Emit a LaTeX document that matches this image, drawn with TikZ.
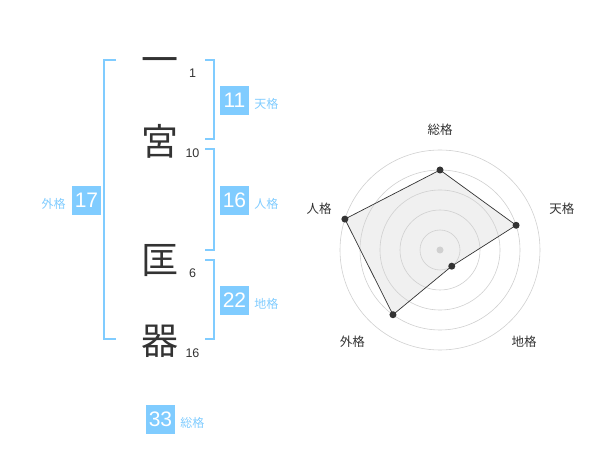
\documentclass[tikz,border=0pt]{standalone}
\usepackage{fontspec}
\setmainfont{Liberation Sans}
\newfontfamily\cjk{Noto Sans CJK JP}
\usetikzlibrary{positioning}
\definecolor{kakublue}{HTML}{80CCFF}
\definecolor{inkgray}{HTML}{333333}
\definecolor{ringgray}{HTML}{D0D0D0}
\definecolor{areagray}{HTML}{F0F0F0}

\begin{document}
\begin{tikzpicture}[x=1pt, y=-1pt,
    kanji/.style={font=\cjk\fontsize{37}{37}\selectfont, text=inkgray, inner sep=0pt},
    strokes/.style={font=\fontsize{12.5}{12.5}\selectfont, text=inkgray, inner sep=0pt},
    kakubox/.style={fill=kakublue, text=white, minimum size=29pt, inner sep=0pt, font=\fontsize{21}{21}\selectfont},
    kakulabel/.style={font=\cjk\fontsize{12}{12}\selectfont, text=kakublue, inner sep=0pt},
    bracket/.style={draw=kakublue, line width=2pt},
    ring/.style={draw=ringgray, line width=0.6pt},
    axislabel/.style={font=\cjk\fontsize{12.5}{12.5}\selectfont, text=inkgray, inner sep=0pt},
    dot/.style={circle, fill=inkgray, inner sep=0pt, minimum size=7pt}
]
    \useasboundingbox (0,0) rectangle (600,470);

    % Name
    \node[kanji] (c1) at (160,66) {一};
    \node[kanji] (c2) at (160,141) {宮};
    \node[kanji] (c3) at (160,261) {匡};
    \node[kanji] (c4) at (160,341) {器};

    % Strokes
    \node[strokes] (s1) at (192.5,73) {1};
    \node[strokes] (s2) at (192.5,153) {10};
    \node[strokes] (s3) at (192.5,273) {6};
    \node[strokes] (s4) at (192.5,353) {16};

    % Brackets
    \draw[bracket] (116,60) -- (104,60) -- (104,339) -- (116,339);
    \draw[bracket] (205,60) -- (214,60) -- (214,139) -- (205,139);
    \draw[bracket] (205,149) -- (214,149) -- (214,250) -- (205,250);
    \draw[bracket] (205,260) -- (214,260) -- (214,339) -- (205,339);

    % Kaku
    \node[kakubox] (ten) at (234.5,100.5) {11};
    \node[kakubox] (jin) at (234.5,200.5) {16};
    \node[kakubox] (chi) at (234.5,300.5) {22};
    \node[kakubox] (gai) at (86.5,200.5) {17};
    \node[kakubox] (sou) at (160.5,419.5) {33};
    \node[kakulabel, right=5pt of ten, yshift=-3pt] {天格};
    \node[kakulabel, right=5pt of jin, yshift=-3pt] {人格};
    \node[kakulabel, right=5pt of chi, yshift=-3pt] {地格};
    \node[kakulabel, left=6pt of gai, yshift=-3pt] {外格};
    \node[kakulabel, right=5pt of sou, yshift=-3pt] {総格};

    % Radar
    \begin{scope}[shift={(440,250)}, y=1pt]
        \coordinate (o) at (0,0);
        \coordinate (r1) at (90:80);
        \coordinate (r2) at (18:80);
        \coordinate (r3) at (-54:20);
        \coordinate (r4) at (-126:80);
        \coordinate (r5) at (162:100);
        \fill[areagray] (r1) -- (r2) -- (r3) -- (r4) -- (r5) -- cycle;
        \foreach \r in {20,40,60,80,100}
            \draw[ring] (o) circle (\r);
        \fill[ringgray] (o) circle (3.5);
        \draw[inkgray, line width=0.7pt] (r1) -- (r2) -- (r3) -- (r4) -- (r5) -- cycle;
        \foreach \i in {1,...,5}
            \node[dot] (d\i) at (r\i) {};
        \node[axislabel] (l1) at (90:120) {総格};
        \node[axislabel] (l2) at (18.6:128.5) {天格};
        \node[axislabel] (l3) at (-47.6:124.6) {地格};
        \node[axislabel] (l4) at (-133.7:127) {外格};
        \node[axislabel] (l5) at (161.3:127.6) {人格};
    \end{scope}
\end{tikzpicture}
\end{document}
